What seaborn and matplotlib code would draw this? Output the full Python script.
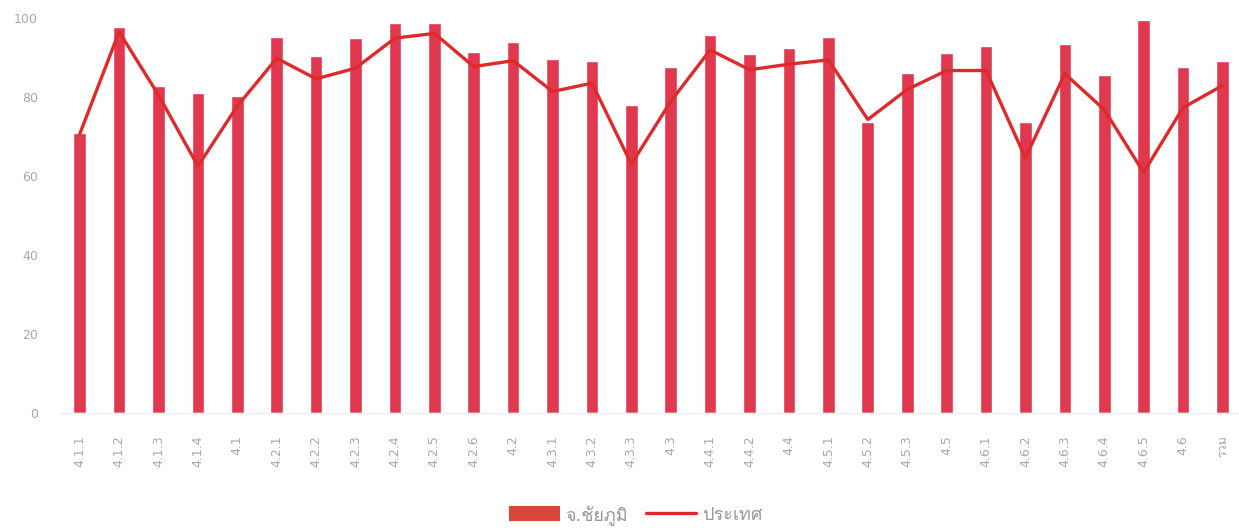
import numpy as np
import pandas as pd
import matplotlib
matplotlib.use("Agg")
import matplotlib.pyplot as plt
from matplotlib import font_manager, ft2font
from matplotlib.patches import Patch
from matplotlib.lines import Line2D
import seaborn as sns

categories = ["4.1.1", "4.1.2", "4.1.3", "4.1.4", "4.1",
              "4.2.1", "4.2.2", "4.2.3", "4.2.4", "4.2.5", "4.2.6", "4.2",
              "4.3.1", "4.3.2", "4.3.3", "4.3",
              "4.4.1", "4.4.2", "4.4",
              "4.5.1", "4.5.2", "4.5.3", "4.5",
              "4.6.1", "4.6.2", "4.6.3", "4.6.4", "4.6.5", "4.6", "รวม"]
province = [71.0, 97.8, 82.7, 81.0, 80.2,
            95.1, 90.3, 94.9, 98.7, 98.7, 91.3, 94.0,
            89.6, 89.0, 78.1, 87.5,
            95.7, 90.9, 92.5,
            95.1, 73.6, 86.1, 91.1,
            92.8, 73.6, 93.3, 85.6, 99.5, 87.5, 89.0]
country = [70.6, 96.5, 80.5, 62.5, 77.7,
           89.8, 84.6, 87.3, 94.9, 96.1, 87.7, 89.2,
           81.4, 83.5, 63.0, 78.9,
           91.9, 86.9, 88.3,
           89.4, 74.3, 81.9, 86.7,
           86.7, 64.6, 85.9, 76.8, 60.9, 77.3, 82.9]
yticks = [0, 20, 40, 60, 80, 100]
bar_label = "จ.ชัยภูมิ"
line_label = "ประเทศ"

# find a font that has Thai glyphs
thai_font = None
for f in font_manager.fontManager.ttflist:
    try:
        cm = ft2font.FT2Font(f.fname).get_charmap()
        if 0x0E0A in cm and 0x0E20 in cm:
            thai_font = f.name
            break
    except Exception:
        pass

sns.set_theme(style="white")
fams = ["DejaVu Sans"]
if thai_font:
    fams = ["DejaVu Sans", thai_font]
plt.rcParams["font.family"] = fams

df = pd.DataFrame({"cat": categories, "province": province, "country": country})

fig = plt.figure(figsize=(12.39, 5.30), dpi=100)
ax = fig.add_axes([60/1239, 117/530, 1179/1239, 395/530])

bar_color = "#E0394F"
line_color = "#E02A2A"
sns.barplot(data=df, x="cat", y="province", color=bar_color, width=0.32,
            saturation=1, ax=ax)
sns.pointplot(data=df, x="cat", y="country", color=line_color, markers="",
              linewidth=2.4, ax=ax)

ax.set_xlim(-0.5, 29.42)
ax.set_ylim(0, 100)
ax.set_yticks(yticks)
ax.set_xlabel("")
ax.set_ylabel("")
for s in ["top", "right", "left"]:
    ax.spines[s].set_visible(False)
ax.spines["bottom"].set_color("#eeeeee")
ax.spines["bottom"].set_linewidth(1.0)
ax.tick_params(axis="y", labelsize=9, colors="#a8a8a8", length=0, pad=16)
ax.tick_params(axis="x", labelsize=9, colors="#a8a8a8", length=0, pad=16,
               labelrotation=90)
for t in ax.get_xticklabels() + ax.get_yticklabels():
    t.set_color("#a8a8a8")

handles = [Patch(facecolor="#D9463C", edgecolor="none", label=bar_label),
           Line2D([0], [0], color=line_color, lw=2.4, label=line_label)]
fig.legend(handles=handles, loc="center", bbox_to_anchor=(0.513, 15/530),
           ncol=2, frameon=False, fontsize=13, handlelength=2.8,
           handleheight=0.9, columnspacing=1.0, handletextpad=0.3,
           labelcolor="#999999")

fig.savefig("out.png", dpi=100)
